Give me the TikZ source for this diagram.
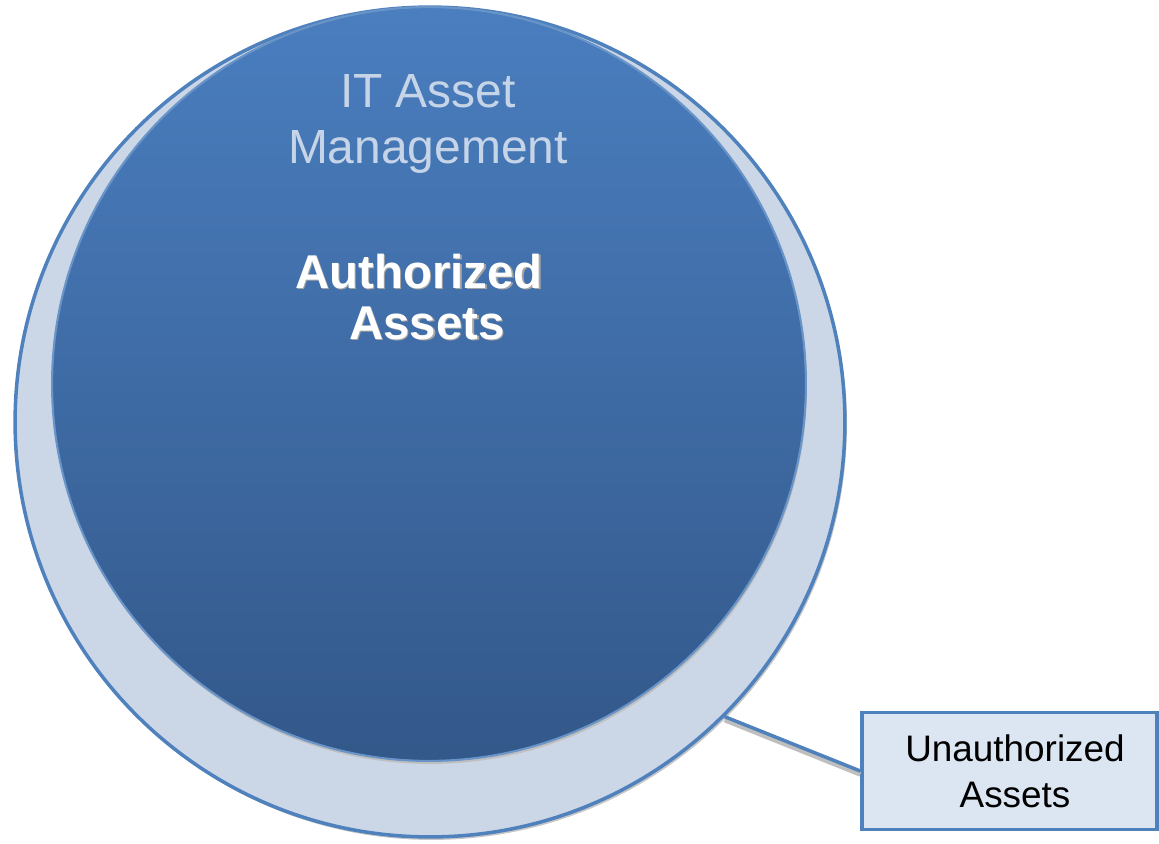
\documentclass[tikz,border=0pt]{standalone}
\usepackage{fontspec}
\setmainfont{Liberation Sans}
\usetikzlibrary{positioning}

\definecolor{edgeblue}{HTML}{4F81BD}
\definecolor{ringfill}{HTML}{CBD6E6}
\definecolor{coretop}{HTML}{4A7EBF}
\definecolor{corebottom}{HTML}{33588A}
\definecolor{paletext}{HTML}{C6D4E8}
\definecolor{boxfill}{HTML}{DCE6F2}

\tikzset{
  ring/.style={circle, draw=edgeblue, line width=2pt, fill=ringfill, inner sep=0pt},
  core/.style={circle, draw=edgeblue!85!white, line width=1.2pt, top color=coretop,
    bottom color=corebottom, inner sep=0pt},
  halo/.style={circle, fill=black!22, inner sep=0pt},
  labelbox/.style={draw=edgeblue, line width=2pt, fill=boxfill, inner sep=0pt,
    minimum width=5.9cm, minimum height=2.34cm, align=center,
    font=\fontsize{21}{26}\selectfont},
}

\begin{document}
\begin{tikzpicture}[x=0.02cm, y=-0.02cm]
    \useasboundingbox (0,0) rectangle (1159,843);
    % shadows under the circles
    \node[halo, minimum size=16.6cm] (ringshadow) at (432,425) {};
    \node[ring, minimum size=16.6cm] (outer) at (430,422) {};
    \node[halo, minimum size=15.08cm, fill=black!25] (coreshadow) at (430,387) {};
    \node[core, minimum size=15.08cm] (inner) at (429,384) {};

    \node[align=center, text=paletext, font=\fontsize{27.3}{31.5}\selectfont] (itam) at (428,124) {IT Asset\\Management};
    \node[align=center, text=black!35, font=\bfseries\fontsize{27}{29}\selectfont] (authshadow) at (420.5,298.5) {Authorized\\\hspace*{0.32cm}Assets};
    \node[align=center, text=white, font=\bfseries\fontsize{27}{29}\selectfont] (auth) at (419,297) {Authorized\\\hspace*{0.32cm}Assets};

    \node[labelbox] (unauth) at (1009.5,771) {};
    \node[align=center, font=\fontsize{21}{26}\selectfont] (unauthtext) at (1015,771) {Unauthorized\\Assets};
    \draw[black!25, line width=2.5pt] ([yshift=-2pt]outer.-45) -- ([yshift=-2pt]unauth.west);
    \draw[edgeblue, line width=2pt] (outer.-45) -- (unauth.west);
\end{tikzpicture}
\end{document}
